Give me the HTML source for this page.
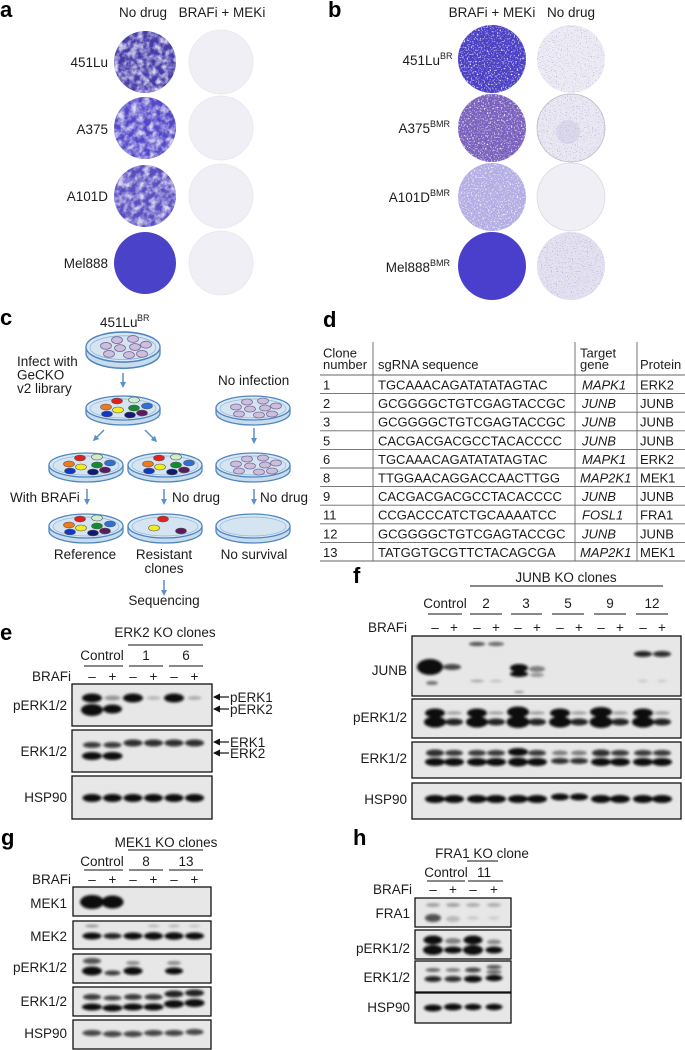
<!DOCTYPE html>
<html><head><meta charset="utf-8"><style>
html,body{margin:0;padding:0;background:#fff;}
svg{display:block;}
text{font-family:"Liberation Sans",Arial,sans-serif;fill:#1c1c1c;}
.L{font-weight:bold;font-size:22px;fill:#000;}
.t{font-size:13.5px;}
.s{font-size:13px;}
.sup{font-size:9px;}
.bk{fill:#e7e7e7;stroke:#111;stroke-width:1.3;}
.b ellipse{fill:#0b0b0b;}
.ln{stroke:#111;stroke-width:1.1;}
.tl{stroke:#666;stroke-width:0.9;}
.ar{stroke:#5b8fc7;stroke-width:1.5;fill:none;}
</style></head><body>
<svg width="685" height="1050" viewBox="0 0 685 1050" xmlns="http://www.w3.org/2000/svg">
<defs>
<filter id="mot" color-interpolation-filters="sRGB">
<feTurbulence type="fractalNoise" baseFrequency="0.16" numOctaves="3" seed="4"/>
<feColorMatrix type="matrix" values="0 0 0 0 0.86 0 0 0 0 0.84 0 0 0 0 0.95 2.3 0 0 0 -0.8"/>
<feComposite in2="SourceAlpha" operator="in"/>
</filter>
<filter id="spk" color-interpolation-filters="sRGB">
<feTurbulence type="fractalNoise" baseFrequency="0.7" numOctaves="1" seed="7"/>
<feColorMatrix type="matrix" values="0 0 0 0 1 0 0 0 0 1 0 0 0 0 1 4 0 0 0 -2.1"/>
<feComposite in2="SourceAlpha" operator="in"/>
</filter>
<filter id="dsp" color-interpolation-filters="sRGB">
<feTurbulence type="fractalNoise" baseFrequency="0.8" numOctaves="1" seed="11"/>
<feColorMatrix type="matrix" values="0 0 0 0 0.5 0 0 0 0 0.45 0 0 0 0 0.75 2.5 0 0 0 -1.45"/>
<feComposite in2="SourceAlpha" operator="in"/>
</filter>
<filter id="bl" x="-50%" y="-80%" width="200%" height="260%"><feGaussianBlur stdDeviation="1.3"/></filter>
<marker id="ah" markerWidth="6" markerHeight="6" refX="3" refY="3" orient="auto" markerUnits="userSpaceOnUse">
<path d="M0,0 L6,3 L0,6 z" fill="#5b8fc7"/></marker>
<marker id="bh" markerWidth="7" markerHeight="7" refX="6" refY="3.5" orient="auto" markerUnits="userSpaceOnUse">
<path d="M0,0 L7,3.5 L0,7 z" fill="#111"/></marker>
<g id="dish">
<path d="M-37,0 v5 a37,12 0 0 0 74,0 v-5" fill="#c9dcec" stroke="#4f86c0" stroke-width="1.3"/>
<ellipse cx="0" cy="0" rx="37" ry="12" fill="#d9e8f4" stroke="#4f86c0" stroke-width="1.3"/>
<ellipse cx="0" cy="0.5" rx="33" ry="9.5" fill="#d4e4f1" stroke="#8fb4da" stroke-width="0.7"/>
</g>
<g id="lil" fill="#cbbfdc" stroke="#7e6d9e" stroke-width="0.8">
<ellipse cx="-6" cy="-6" rx="5.5" ry="3"/><ellipse cx="10" cy="-7" rx="5.5" ry="3"/>
<ellipse cx="-17" cy="-1" rx="5.5" ry="3"/><ellipse cx="-3" cy="1" rx="5.5" ry="3"/>
<ellipse cx="12" cy="0" rx="5.5" ry="3"/><ellipse cx="23" cy="-2" rx="5.5" ry="3"/>
<ellipse cx="-14" cy="6" rx="5.5" ry="3"/><ellipse cx="6" cy="7" rx="5.5" ry="3"/>
<ellipse cx="19" cy="6" rx="5.5" ry="3"/>
</g>
<g id="col" stroke="#555" stroke-width="0.6">
<ellipse cx="-6" cy="-7" rx="5.5" ry="3" fill="#e0201e"/><ellipse cx="11" cy="-8" rx="5.5" ry="3" fill="#cfeccb"/>
<ellipse cx="-17" cy="-1" rx="5.5" ry="3" fill="#f07a1c"/><ellipse cx="-5" cy="2" rx="5.5" ry="3" fill="#f5ea20"/>
<ellipse cx="11" cy="0" rx="5.5" ry="3" fill="#138a32"/><ellipse cx="24" cy="-2" rx="5.5" ry="3" fill="#2f6fd6"/>
<ellipse cx="-16" cy="6" rx="5.5" ry="3" fill="#1437c4"/><ellipse cx="7" cy="7" rx="5.5" ry="3" fill="#101a6e"/>
<ellipse cx="19" cy="5" rx="5.5" ry="3" fill="#5a1a5e"/>
</g>
</defs>

<!-- ===== Panel a ===== -->
<text class="L" x="0" y="17">a</text>
<text class="t" x="143" y="17" text-anchor="middle">No drug</text>
<text class="t" x="222" y="17" text-anchor="middle">BRAFi + MEKi</text>
<text class="t" x="108" y="67" text-anchor="end">451Lu</text>
<text class="t" x="108" y="134" text-anchor="end">A375</text>
<text class="t" x="108" y="201" text-anchor="end">A101D</text>
<text class="t" x="108" y="268" text-anchor="end">Mel888</text>
<circle cx="145" cy="62" r="31" fill="#463ca8"/><circle cx="145" cy="62" r="31" fill="#fff" filter="url(#mot)"/>
<circle cx="145" cy="128" r="31" fill="#5248c8"/><circle cx="145" cy="128" r="31" fill="#fff" filter="url(#mot)"/>
<circle cx="145" cy="196" r="31" fill="#5a4fc0"/><circle cx="145" cy="196" r="31" fill="#fff" filter="url(#mot)"/>
<circle cx="145" cy="263" r="31" fill="#4a42c8"/>
<g fill="#f0eff5" stroke="#e8e6ef" stroke-width="0.8">
<circle cx="221" cy="62" r="32"/><circle cx="221" cy="128" r="32"/><circle cx="221" cy="196" r="32"/><circle cx="221" cy="263" r="32"/>
</g>

<!-- ===== Panel b ===== -->
<text class="L" x="328" y="17">b</text>
<text class="t" x="492" y="17" text-anchor="middle">BRAFi + MEKi</text>
<text class="t" x="571" y="17" text-anchor="middle">No drug</text>
<text class="t" x="440" y="65" text-anchor="end">451Lu</text><text class="sup" x="440" y="59">BR</text>
<text class="t" x="430" y="133" text-anchor="end">A375</text><text class="sup" x="430" y="127">BMR</text>
<text class="t" x="430" y="202" text-anchor="end">A101D</text><text class="sup" x="430" y="196">BMR</text>
<text class="t" x="430" y="272" text-anchor="end">Mel888</text><text class="sup" x="430" y="266">BMR</text>
<circle cx="492" cy="59" r="34" fill="#4a3fc4"/><circle cx="492" cy="59" r="34" fill="#fff" filter="url(#spk)"/>
<circle cx="492" cy="128" r="34" fill="#7a60bd"/><circle cx="492" cy="128" r="34" fill="#fff" filter="url(#spk)"/>
<circle cx="492" cy="197" r="34" fill="#b3ade3"/><circle cx="492" cy="197" r="34" fill="#fff" filter="url(#spk)"/>
<circle cx="492" cy="266" r="34" fill="#4a3fcc"/>
<circle cx="571" cy="59" r="34" fill="#edebf4"/><circle cx="571" cy="59" r="34" fill="#fff" filter="url(#dsp)"/>
<circle cx="571" cy="128" r="34" fill="#eae8f2" stroke="#b8b5c4" stroke-width="0.7"/><circle cx="571" cy="128" r="34" fill="#fff" filter="url(#dsp)"/>
<circle cx="568" cy="132" r="12" fill="#c2badf" opacity="0.35"/>
<circle cx="571" cy="197" r="34" fill="#f0eff5" stroke="#d8d6e0" stroke-width="0.7"/>
<circle cx="571" cy="266" r="34" fill="#e4e1f0"/><circle cx="571" cy="266" r="34" fill="#fff" filter="url(#dsp)"/>

<!-- ===== Panel c ===== -->
<text class="L" x="0" y="325">c</text>
<text class="t" x="100" y="327">451Lu</text><text class="sup" x="137" y="321">BR</text>
<use href="#dish" transform="translate(123,347) scale(1,1.25)"/>
<use href="#lil" transform="translate(123,347) scale(1,1.15)"/>
<text class="t" x="17" y="366">Infect with</text>
<text class="t" x="17" y="379.5">GeCKO</text>
<text class="t" x="17" y="393">v2 library</text>
<line class="ar" x1="123" y1="373" x2="123" y2="385" marker-end="url(#ah)"/>
<use href="#dish" transform="translate(123,408)"/><use href="#col" transform="translate(123,408)"/>
<text class="t" x="218" y="385">No infection</text>
<use href="#dish" transform="translate(253,408)"/><use href="#lil" transform="translate(253,408)"/>
<line class="ar" x1="104" y1="430" x2="95" y2="439" marker-end="url(#ah)"/>
<line class="ar" x1="145" y1="430" x2="155" y2="440" marker-end="url(#ah)"/>
<line class="ar" x1="254" y1="428" x2="254" y2="441" marker-end="url(#ah)"/>
<use href="#dish" transform="translate(86,465)"/><use href="#col" transform="translate(86,465)"/>
<use href="#dish" transform="translate(165,465)"/><use href="#col" transform="translate(165,465)"/>
<use href="#dish" transform="translate(253,465)"/><use href="#lil" transform="translate(253,465)"/>
<text class="t" x="10" y="502">With BRAFi</text>
<line class="ar" x1="87" y1="489" x2="87" y2="502" marker-end="url(#ah)"/>
<line class="ar" x1="164" y1="489" x2="164" y2="502" marker-end="url(#ah)"/>
<text class="t" x="172" y="502">No drug</text>
<line class="ar" x1="254" y1="489" x2="254" y2="502" marker-end="url(#ah)"/>
<text class="t" x="260" y="502">No drug</text>
<use href="#dish" transform="translate(86,526)"/><use href="#col" transform="translate(86,526)"/>
<use href="#dish" transform="translate(165,526)"/>
<g stroke="#555" stroke-width="0.6"><ellipse cx="163" cy="519" rx="5.5" ry="3" fill="#e0201e"/><ellipse cx="154" cy="528" rx="5.5" ry="3" fill="#f5ea20"/><ellipse cx="181" cy="531" rx="5.5" ry="3" fill="#5a1a5e"/></g>
<use href="#dish" transform="translate(253,526)"/>
<text class="t" x="85" y="559" text-anchor="middle">Reference</text>
<text class="t" x="164" y="559" text-anchor="middle">Resistant</text>
<text class="t" x="164" y="573" text-anchor="middle">clones</text>
<text class="t" x="254" y="559" text-anchor="middle">No survival</text>
<line class="ar" x1="164" y1="580" x2="164" y2="593" marker-end="url(#ah)"/>
<text class="t" x="164" y="605" text-anchor="middle">Sequencing</text>

<!-- ===== Panel d ===== -->
<text class="L" x="323" y="327">d</text>
<g class="tl">
<line x1="373" y1="342" x2="373" y2="561"/><line x1="575" y1="342" x2="575" y2="561"/><line x1="637" y1="342" x2="637" y2="561"/>
<line x1="320" y1="375" x2="685" y2="375"/><line x1="320" y1="393.6" x2="685" y2="393.6"/><line x1="320" y1="412.2" x2="685" y2="412.2"/>
<line x1="320" y1="430.8" x2="685" y2="430.8"/><line x1="320" y1="449.4" x2="685" y2="449.4"/><line x1="320" y1="468" x2="685" y2="468"/>
<line x1="320" y1="486.6" x2="685" y2="486.6"/><line x1="320" y1="505.2" x2="685" y2="505.2"/><line x1="320" y1="523.8" x2="685" y2="523.8"/>
<line x1="320" y1="542.4" x2="685" y2="542.4"/><line x1="320" y1="561" x2="685" y2="561"/>
</g>
<g class="s">
<text x="323" y="357.5">Clone</text><text x="323" y="369">number</text>
<text x="378" y="369">sgRNA sequence</text>
<text x="580" y="357.5">Target</text><text x="580" y="369">gene</text>
<text x="640" y="369">Protein</text>
<text x="323" y="389.5">1</text><text x="378" y="389.5">TGCAAACAGATATATAGTAC</text><text x="582" y="389.5" font-style="italic">MAPK1</text><text x="640" y="389.5">ERK2</text>
<text x="323" y="408.1">2</text><text x="378" y="408.1">GCGGGGCTGTCGAGTACCGC</text><text x="582" y="408.1" font-style="italic">JUNB</text><text x="640" y="408.1">JUNB</text>
<text x="323" y="426.7">3</text><text x="378" y="426.7">GCGGGGCTGTCGAGTACCGC</text><text x="582" y="426.7" font-style="italic">JUNB</text><text x="640" y="426.7">JUNB</text>
<text x="323" y="445.3">5</text><text x="378" y="445.3">CACGACGACGCCTACACCCC</text><text x="582" y="445.3" font-style="italic">JUNB</text><text x="640" y="445.3">JUNB</text>
<text x="323" y="463.9">6</text><text x="378" y="463.9">TGCAAACAGATATATAGTAC</text><text x="582" y="463.9" font-style="italic">MAPK1</text><text x="640" y="463.9">ERK2</text>
<text x="323" y="482.5">8</text><text x="378" y="482.5">TTGGAACAGGACCAACTTGG</text><text x="580" y="482.5" font-style="italic">MAP2K1</text><text x="640" y="482.5">MEK1</text>
<text x="323" y="501.1">9</text><text x="378" y="501.1">CACGACGACGCCTACACCCC</text><text x="582" y="501.1" font-style="italic">JUNB</text><text x="640" y="501.1">JUNB</text>
<text x="323" y="519.7">11</text><text x="378" y="519.7">CCGACCCATCTGCAAAATCC</text><text x="582" y="519.7" font-style="italic">FOSL1</text><text x="640" y="519.7">FRA1</text>
<text x="323" y="538.3">12</text><text x="378" y="538.3">GCGGGGCTGTCGAGTACCGC</text><text x="582" y="538.3" font-style="italic">JUNB</text><text x="640" y="538.3">JUNB</text>
<text x="323" y="556.9">13</text><text x="378" y="556.9">TATGGTGCGTTCTACAGCGA</text><text x="580" y="556.9" font-style="italic">MAP2K1</text><text x="640" y="556.9">MEK1</text>
</g>

<!-- ===== Panel e ===== -->
<text class="L" x="0" y="640">e</text>
<text class="t" x="165" y="637" text-anchor="middle">ERK2 KO clones</text>
<line class="ln" x1="128" y1="645" x2="203" y2="645"/>
<text class="t" x="102" y="660" text-anchor="middle">Control</text>
<text class="t" x="146" y="660" text-anchor="middle">1</text>
<text class="t" x="186" y="660" text-anchor="middle">6</text>
<line class="ln" x1="84" y1="666" x2="123" y2="666"/><line class="ln" x1="129" y1="666" x2="163" y2="666"/><line class="ln" x1="169" y1="666" x2="203" y2="666"/>
<text class="t" x="71" y="681" text-anchor="end">BRAFi</text>
<g class="t" text-anchor="middle"><text x="92" y="681">–</text><text x="112.5" y="681">+</text><text x="133" y="681">–</text><text x="153.5" y="681">+</text><text x="174" y="681">–</text><text x="194.5" y="681">+</text></g>
<rect class="bk" x="72" y="684" width="140" height="42"/>
<rect class="bk" x="72" y="730" width="140" height="42"/>
<rect class="bk" x="72" y="776" width="140" height="43"/>
<g class="b" filter="url(#bl)">
<ellipse cx="92" cy="698" rx="10" ry="4.5"/><ellipse cx="92" cy="710" rx="11" ry="6"/>
<ellipse cx="112.5" cy="698" rx="8" ry="2.5" opacity=".35"/><ellipse cx="112.5" cy="709" rx="9.5" ry="4.5"/>
<ellipse cx="133" cy="698" rx="10" ry="4.5"/><ellipse cx="153.5" cy="698" rx="7" ry="2" opacity=".2"/>
<ellipse cx="174" cy="698" rx="10" ry="4.5"/><ellipse cx="194.5" cy="698" rx="7" ry="2" opacity=".25"/>
<ellipse cx="92" cy="745" rx="9" ry="3" opacity=".8"/><ellipse cx="92" cy="756" rx="10" ry="4"/>
<ellipse cx="112.5" cy="745" rx="9" ry="3" opacity=".8"/><ellipse cx="112.5" cy="756" rx="10" ry="4"/>
<ellipse cx="133" cy="743" rx="9.5" ry="3.5" opacity=".85"/><ellipse cx="153.5" cy="743" rx="9.5" ry="3.5" opacity=".85"/>
<ellipse cx="174" cy="743" rx="9.5" ry="3.5" opacity=".85"/><ellipse cx="194.5" cy="743" rx="9.5" ry="3.5" opacity=".85"/>
<ellipse cx="92" cy="798" rx="9.5" ry="4"/><ellipse cx="112.5" cy="798" rx="9.5" ry="4"/><ellipse cx="133" cy="798" rx="9.5" ry="4"/>
<ellipse cx="153.5" cy="798" rx="9.5" ry="4"/><ellipse cx="174" cy="798" rx="9.5" ry="4"/><ellipse cx="194.5" cy="798" rx="9.5" ry="4"/>
</g>
<text class="t" x="67" y="710" text-anchor="end">pERK1/2</text>
<text class="t" x="67" y="756" text-anchor="end">ERK1/2</text>
<text class="t" x="67" y="802" text-anchor="end">HSP90</text>
<g stroke="#111" stroke-width="1.2">
<line x1="229" y1="697" x2="214" y2="697" marker-end="url(#bh)"/><line x1="229" y1="709" x2="214" y2="709" marker-end="url(#bh)"/>
<line x1="229" y1="742" x2="214" y2="742" marker-end="url(#bh)"/><line x1="229" y1="753" x2="214" y2="753" marker-end="url(#bh)"/>
</g>
<text class="t" x="230" y="702">pERK1</text><text class="t" x="230" y="714">pERK2</text>
<text class="t" x="230" y="747">ERK1</text><text class="t" x="230" y="758">ERK2</text>

<!-- ===== Panel f ===== -->
<text class="L" x="353" y="583">f</text>
<text class="t" x="566" y="582" text-anchor="middle">JUNB KO clones</text>
<line class="ln" x1="470" y1="586" x2="663" y2="586"/>
<g class="t" text-anchor="middle">
<text x="445" y="608">Control</text><text x="486" y="608">2</text><text x="526" y="608">3</text><text x="568" y="608">5</text><text x="610" y="608">9</text><text x="652" y="608">12</text>
</g>
<g class="ln"><line x1="428" y1="614" x2="462" y2="614"/><line x1="470" y1="614" x2="502" y2="614"/><line x1="511" y1="614" x2="542" y2="614"/><line x1="552" y1="614" x2="584" y2="614"/><line x1="594" y1="614" x2="626" y2="614"/><line x1="636" y1="614" x2="668" y2="614"/></g>
<text class="t" x="407" y="632" text-anchor="end">BRAFi</text>
<g class="t" text-anchor="middle">
<text x="435" y="632">–</text><text x="454" y="632">+</text><text x="477" y="632">–</text><text x="496" y="632">+</text><text x="518" y="632">–</text><text x="537" y="632">+</text>
<text x="560" y="632">–</text><text x="579" y="632">+</text><text x="601" y="632">–</text><text x="620" y="632">+</text><text x="643" y="632">–</text><text x="662" y="632">+</text>
</g>
<rect class="bk" x="412" y="636" width="269" height="60"/>
<rect class="bk" x="412" y="699" width="269" height="39"/>
<rect class="bk" x="412" y="742" width="269" height="36"/>
<rect class="bk" x="412" y="783" width="269" height="36"/>
<g class="b" filter="url(#bl)">
<ellipse cx="430" cy="667" rx="13" ry="8"/><ellipse cx="432" cy="683" rx="6" ry="2" opacity=".5"/>
<ellipse cx="452" cy="667" rx="9" ry="3" opacity=".75"/>
<ellipse cx="477" cy="644" rx="8" ry="2" opacity=".7"/><ellipse cx="496" cy="644" rx="8" ry="2" opacity=".6"/>
<ellipse cx="477" cy="681" rx="7" ry="1.5" opacity=".25"/><ellipse cx="496" cy="681" rx="6" ry="1.5" opacity=".15"/>
<ellipse cx="519" cy="668" rx="9" ry="4"/><ellipse cx="519" cy="674" rx="9" ry="3"/><ellipse cx="519" cy="692" rx="5" ry="1" opacity=".4"/>
<ellipse cx="537" cy="669" rx="8" ry="3" opacity=".45"/><ellipse cx="537" cy="675" rx="7" ry="2" opacity=".35"/>
<ellipse cx="643" cy="654" rx="9" ry="3" opacity=".9"/><ellipse cx="662" cy="654" rx="9" ry="3" opacity=".85"/>
<ellipse cx="643" cy="681" rx="5" ry="1.5" opacity=".12"/><ellipse cx="662" cy="681" rx="5" ry="1.5" opacity=".1"/>
<ellipse cx="435" cy="713" rx="10" ry="4.5"/><ellipse cx="435" cy="722" rx="11" ry="5.5"/>
<ellipse cx="454" cy="713" rx="8" ry="1.8" opacity=".3"/><ellipse cx="454" cy="722" rx="9" ry="3.5" opacity=".9"/>
<ellipse cx="477" cy="713" rx="10" ry="4.5"/><ellipse cx="477" cy="722" rx="11" ry="5.5"/>
<ellipse cx="496" cy="713" rx="8" ry="1.8" opacity=".3"/><ellipse cx="496" cy="722" rx="9" ry="3.5" opacity=".9"/>
<ellipse cx="518" cy="712" rx="11" ry="5.5"/><ellipse cx="518" cy="722" rx="11.5" ry="6"/>
<ellipse cx="537" cy="713" rx="8" ry="1.8" opacity=".3"/><ellipse cx="537" cy="722" rx="9" ry="3.5" opacity=".9"/>
<ellipse cx="560" cy="713" rx="10" ry="4.5"/><ellipse cx="560" cy="722" rx="11" ry="5.5"/>
<ellipse cx="579" cy="713" rx="8" ry="1.8" opacity=".3"/><ellipse cx="579" cy="722" rx="9" ry="3.5" opacity=".9"/>
<ellipse cx="601" cy="712" rx="11" ry="5"/><ellipse cx="601" cy="722" rx="11.5" ry="6"/>
<ellipse cx="620" cy="713" rx="8" ry="1.8" opacity=".3"/><ellipse cx="620" cy="722" rx="9" ry="3.5" opacity=".9"/>
<ellipse cx="643" cy="713" rx="10" ry="4.5"/><ellipse cx="643" cy="722" rx="11" ry="5.5"/>
<ellipse cx="662" cy="713" rx="8" ry="1.8" opacity=".3"/><ellipse cx="662" cy="722" rx="9" ry="3.5" opacity=".9"/>
<ellipse cx="435" cy="753" rx="9" ry="3.5" opacity=".85"/><ellipse cx="435" cy="762" rx="10" ry="4"/>
<ellipse cx="454" cy="753" rx="9" ry="3" opacity=".8"/><ellipse cx="454" cy="762" rx="10" ry="4"/>
<ellipse cx="477" cy="753" rx="9" ry="3" opacity=".8"/><ellipse cx="477" cy="762" rx="10" ry="4"/>
<ellipse cx="496" cy="753" rx="9" ry="3" opacity=".8"/><ellipse cx="496" cy="762" rx="10" ry="4"/>
<ellipse cx="518" cy="752" rx="10" ry="4"/><ellipse cx="518" cy="762" rx="10" ry="4.5"/>
<ellipse cx="537" cy="753" rx="9" ry="3" opacity=".8"/><ellipse cx="537" cy="762" rx="10" ry="4"/>
<ellipse cx="560" cy="753" rx="8" ry="2.5" opacity=".45"/><ellipse cx="560" cy="761" rx="9" ry="3" opacity=".85"/>
<ellipse cx="579" cy="753" rx="8" ry="2.5" opacity=".45"/><ellipse cx="579" cy="761" rx="9" ry="3" opacity=".85"/>
<ellipse cx="601" cy="753" rx="9" ry="3.5" opacity=".85"/><ellipse cx="601" cy="762" rx="10" ry="4"/>
<ellipse cx="620" cy="753" rx="9" ry="3" opacity=".8"/><ellipse cx="620" cy="762" rx="10" ry="4"/>
<ellipse cx="643" cy="753" rx="9" ry="3" opacity=".8"/><ellipse cx="643" cy="762" rx="10" ry="4"/>
<ellipse cx="662" cy="753" rx="9" ry="3" opacity=".8"/><ellipse cx="662" cy="762" rx="10" ry="4"/>
<ellipse cx="435" cy="799" rx="10" ry="4"/><ellipse cx="454" cy="799" rx="10" ry="4"/><ellipse cx="477" cy="799" rx="10" ry="4"/>
<ellipse cx="496" cy="799" rx="10" ry="4"/><ellipse cx="518" cy="799" rx="10" ry="4"/><ellipse cx="537" cy="799" rx="10" ry="4"/>
<ellipse cx="560" cy="797" rx="9" ry="3.5"/><ellipse cx="579" cy="797" rx="9" ry="3.5"/><ellipse cx="601" cy="799" rx="10" ry="4"/>
<ellipse cx="620" cy="799" rx="10" ry="4"/><ellipse cx="643" cy="799" rx="10" ry="4"/><ellipse cx="662" cy="799" rx="10" ry="4"/>
</g>
<text class="t" x="407" y="675" text-anchor="end">JUNB</text>
<text class="t" x="407" y="722" text-anchor="end">pERK1/2</text>
<text class="t" x="407" y="763" text-anchor="end">ERK1/2</text>
<text class="t" x="407" y="804" text-anchor="end">HSP90</text>

<!-- ===== Panel g ===== -->
<text class="L" x="1" y="845">g</text>
<text class="t" x="166" y="847" text-anchor="middle">MEK1 KO clones</text>
<line class="ln" x1="128" y1="850" x2="203" y2="850"/>
<text class="t" x="102" y="866" text-anchor="middle">Control</text>
<text class="t" x="146" y="866" text-anchor="middle">8</text>
<text class="t" x="186" y="866" text-anchor="middle">13</text>
<line class="ln" x1="84" y1="870" x2="123" y2="870"/><line class="ln" x1="129" y1="870" x2="163" y2="870"/><line class="ln" x1="169" y1="870" x2="203" y2="870"/>
<text class="t" x="71" y="884" text-anchor="end">BRAFi</text>
<g class="t" text-anchor="middle"><text x="92" y="884">–</text><text x="112.5" y="884">+</text><text x="133" y="884">–</text><text x="153.5" y="884">+</text><text x="174" y="884">–</text><text x="194.5" y="884">+</text></g>
<rect class="bk" x="73" y="887" width="138" height="29"/>
<rect class="bk" x="73" y="921" width="138" height="28"/>
<rect class="bk" x="73" y="954" width="138" height="29"/>
<rect class="bk" x="73" y="987" width="138" height="29"/>
<rect class="bk" x="73" y="1020" width="138" height="29"/>
<g class="b" filter="url(#bl)">
<ellipse cx="92" cy="902" rx="12" ry="7"/><ellipse cx="112.5" cy="902" rx="11" ry="6.5"/>
<ellipse cx="92" cy="926" rx="7" ry="1.5" opacity=".35"/><ellipse cx="153.5" cy="926" rx="6" ry="1.5" opacity=".2"/><ellipse cx="174" cy="926" rx="6" ry="1.5" opacity=".2"/><ellipse cx="194.5" cy="926" rx="6" ry="1.5" opacity=".15"/>
<ellipse cx="92" cy="936" rx="9.5" ry="3.5"/><ellipse cx="112.5" cy="936" rx="9" ry="3" opacity=".9"/><ellipse cx="133" cy="936" rx="9.5" ry="3.5"/>
<ellipse cx="153.5" cy="936" rx="9.5" ry="3.8"/><ellipse cx="174" cy="936" rx="9.5" ry="3.8"/><ellipse cx="194.5" cy="936" rx="9.5" ry="3.5"/>
<ellipse cx="92" cy="961" rx="9" ry="3" opacity=".7"/><ellipse cx="92" cy="971" rx="10" ry="4.5"/>
<ellipse cx="112.5" cy="973" rx="8" ry="2.5" opacity=".8"/>
<ellipse cx="133" cy="963" rx="7" ry="2" opacity=".4"/><ellipse cx="133" cy="971" rx="9.5" ry="4"/>
<ellipse cx="174" cy="963" rx="7" ry="2" opacity=".4"/><ellipse cx="174" cy="971" rx="9" ry="3.5"/>
<ellipse cx="92" cy="997" rx="9" ry="3" opacity=".8"/><ellipse cx="92" cy="1007" rx="10" ry="3.5"/>
<ellipse cx="112.5" cy="998" rx="9" ry="2.5" opacity=".75"/><ellipse cx="112.5" cy="1008" rx="10" ry="3.5"/>
<ellipse cx="133" cy="997" rx="9" ry="3" opacity=".8"/><ellipse cx="133" cy="1007" rx="10" ry="3.5"/>
<ellipse cx="153.5" cy="997" rx="9" ry="3" opacity=".8"/><ellipse cx="153.5" cy="1007" rx="10" ry="3.5"/>
<ellipse cx="174" cy="994" rx="9.5" ry="3.5" opacity=".9"/><ellipse cx="174" cy="1004" rx="10" ry="4"/>
<ellipse cx="194.5" cy="993" rx="9.5" ry="3.5" opacity=".9"/><ellipse cx="194.5" cy="1003" rx="10" ry="4"/>
<ellipse cx="92" cy="1033" rx="9.5" ry="3" opacity=".75"/><ellipse cx="112.5" cy="1034" rx="9.5" ry="3" opacity=".75"/><ellipse cx="133" cy="1034" rx="9.5" ry="3" opacity=".75"/>
<ellipse cx="153.5" cy="1033" rx="9.5" ry="3" opacity=".75"/><ellipse cx="174" cy="1033" rx="9.5" ry="3" opacity=".75"/><ellipse cx="194.5" cy="1032" rx="9" ry="3" opacity=".75"/>
</g>
<text class="t" x="67" y="908" text-anchor="end">MEK1</text>
<text class="t" x="67" y="941" text-anchor="end">MEK2</text>
<text class="t" x="67" y="972" text-anchor="end">pERK1/2</text>
<text class="t" x="67" y="1006" text-anchor="end">ERK1/2</text>
<text class="t" x="67" y="1038" text-anchor="end">HSP90</text>

<!-- ===== Panel h ===== -->
<text class="L" x="353" y="845">h</text>
<text class="t" x="482" y="858" text-anchor="middle">FRA1 KO clone</text>
<line class="ln" x1="467" y1="861" x2="498" y2="861"/>
<text class="t" x="446" y="877" text-anchor="middle">Control</text>
<text class="t" x="484" y="877" text-anchor="middle">11</text>
<line class="ln" x1="427" y1="881" x2="465" y2="881"/><line class="ln" x1="468" y1="881" x2="503" y2="881"/>
<text class="t" x="412" y="894" text-anchor="end">BRAFi</text>
<g class="t" text-anchor="middle"><text x="433" y="894">–</text><text x="453" y="894">+</text><text x="473" y="894">–</text><text x="494" y="894">+</text></g>
<rect class="bk" x="415" y="898" width="96" height="29"/>
<rect class="bk" x="415" y="930" width="96" height="29"/>
<rect class="bk" x="415" y="961" width="96" height="31"/>
<rect class="bk" x="415" y="993" width="96" height="30"/>
<g class="b" filter="url(#bl)">
<ellipse cx="433" cy="905" rx="7" ry="2" opacity=".3"/><ellipse cx="453" cy="905" rx="7" ry="2" opacity=".3"/><ellipse cx="473" cy="905" rx="7" ry="2" opacity=".25"/><ellipse cx="494" cy="905" rx="7" ry="2" opacity=".25"/>
<ellipse cx="433" cy="918" rx="8" ry="4" opacity=".7"/><ellipse cx="453" cy="919" rx="7" ry="3" opacity=".2"/>
<ellipse cx="473" cy="918" rx="6" ry="2" opacity=".12"/><ellipse cx="494" cy="918" rx="6" ry="2" opacity=".1"/>
<ellipse cx="433" cy="940" rx="9.5" ry="4.5"/><ellipse cx="433" cy="950" rx="10" ry="5"/>
<ellipse cx="453" cy="941" rx="8" ry="3" opacity=".45"/><ellipse cx="453" cy="950" rx="9" ry="3.5"/>
<ellipse cx="473" cy="940" rx="9.5" ry="4.5"/><ellipse cx="473" cy="950" rx="10" ry="5"/>
<ellipse cx="494" cy="942" rx="7" ry="2.5" opacity=".4"/><ellipse cx="494" cy="950" rx="8.5" ry="3.5"/>
<ellipse cx="433" cy="970" rx="7.5" ry="2" opacity=".55"/><ellipse cx="433" cy="979" rx="8.5" ry="3" opacity=".9"/>
<ellipse cx="453" cy="970" rx="7.5" ry="2" opacity=".45"/><ellipse cx="453" cy="979" rx="8.5" ry="3" opacity=".85"/>
<ellipse cx="473" cy="970" rx="8" ry="2.5" opacity=".75"/><ellipse cx="473" cy="979" rx="9" ry="3.5"/>
<ellipse cx="494" cy="967" rx="7.5" ry="2" opacity=".7"/><ellipse cx="494" cy="972" rx="7.5" ry="2" opacity=".6"/><ellipse cx="494" cy="978" rx="8.5" ry="3.2"/>
<ellipse cx="433" cy="1008" rx="9" ry="3.5"/><ellipse cx="453" cy="1007" rx="9" ry="3.5"/><ellipse cx="473" cy="1007" rx="8.5" ry="3.2"/><ellipse cx="494" cy="1007" rx="8.5" ry="3.2"/>
</g>
<text class="t" x="410" y="918" text-anchor="end">FRA1</text>
<text class="t" x="410" y="953" text-anchor="end">pERK1/2</text>
<text class="t" x="410" y="982" text-anchor="end">ERK1/2</text>
<text class="t" x="410" y="1012" text-anchor="end">HSP90</text>
</svg>
</body></html>
